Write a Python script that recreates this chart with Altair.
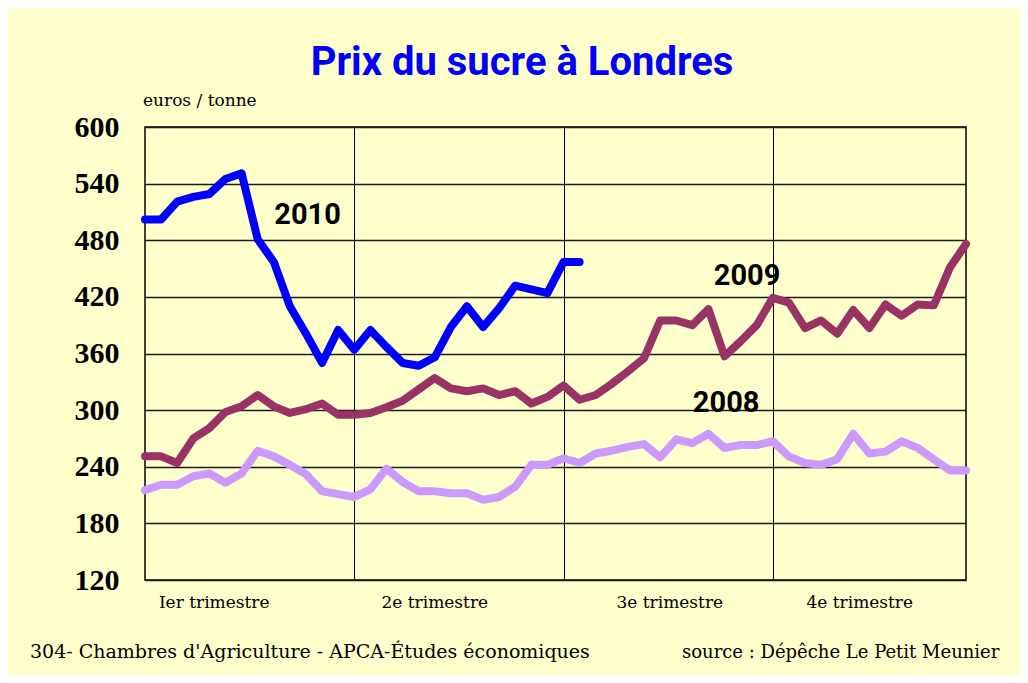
import altair as alt
import pandas as pd

weeks = list(range(52))
v2008 = [215, 221, 221, 230, 233, 223, 233, 257, 251, 242, 232, 214, 211, 208, 216, 238,
         224, 214, 214, 212, 212, 205, 208, 219, 242, 242, 249, 244, 254, 257, 261, 264,
         250, 269, 265, 275, 260, 263, 263, 267, 251, 244, 242, 248, 275, 254, 256, 267,
         260, 248, 236, 236]
v2009 = [251, 251, 244, 270, 281, 298, 304, 316, 304, 297, 301, 307, 295, 295, 297, 303,
         310, 322, 334, 323, 320, 323, 316, 320, 307, 314, 326, 311, 316, 328, 341, 355,
         395, 395, 390, 407, 357, 373, 390, 419, 414, 387, 395, 381, 406, 387, 412, 400,
         412, 411, 451, 476]
v2010 = [502, 502, 521, 526, 529, 545, 551, 481, 457, 410, 381, 350, 385, 364, 385, 367,
         350, 347, 356, 388, 410, 388, 408, 432, 428, 424, 457, 457]

years = ["2008", "2009", "2010"]
colors = ["#CC99FF", "#993366", "#0000FF"]
y_ticks = [120, 180, 240, 300, 360, 420, 480, 540, 600]
quarter_bounds = [13, 26, 39]
quarter_labels = ["Ier trimestre", "2e trimestre", "3e trimestre", "4e trimestre"]
quarter_label_pos = [4.3, 18.0, 32.6, 44.4]

label_years = ["2010", "2009", "2008"]
label_x = [10.1, 37.4, 36.1]
label_y = [507, 442, 308]

title_text = "Prix du sucre à Londres"
unit_text = "euros / tonne"
footer_left = "304- Chambres d'Agriculture - APCA-Études économiques"
footer_right = "source : Dépêche Le Petit Meunier"

rows = []
for yr, vals in zip(years, [v2008, v2009, v2010]):
    for w, v in zip(weeks, vals):
        rows.append({"year": yr, "week": w, "value": v})
df = pd.DataFrame(rows)

W, H = 821, 453
xs = alt.Scale(domain=[0, 51], nice=False, zero=False)
ys = alt.Scale(domain=[120, 600], nice=False, zero=False)

SANS = "Roboto, Liberation Sans, sans-serif"
SERIF = "DejaVu Serif, Liberation Serif, serif"

lines = alt.Chart(df).mark_line(strokeWidth=8, strokeCap="round", strokeJoin="round").encode(
    x=alt.X("week:Q", scale=xs,
            axis=alt.Axis(values=quarter_bounds, grid=True, gridColor="#000000", gridWidth=1,
                          labels=False, ticks=False, domain=False, title=None)),
    y=alt.Y("value:Q", scale=ys,
            axis=alt.Axis(values=y_ticks, grid=True, gridColor="#1a1a1a", gridWidth=1.5,
                          ticks=False, domain=False, title=None,
                          labelFont="Liberation Serif", labelFontWeight="bold",
                          labelFontSize=30, labelColor="#000000", labelPadding=26)),
    color=alt.Color("year:N", scale=alt.Scale(domain=years, range=colors), legend=None),
    order=alt.Order("week:Q"),
)

lab_df = pd.DataFrame({"t": label_years, "x": label_x, "y": label_y})
year_labels = alt.Chart(lab_df).mark_text(
    font=SANS, fontWeight="bold", fontSize=29, color="#000000",
    align="center", baseline="middle"
).encode(x=alt.X("x:Q", scale=xs), y=alt.Y("y:Q", scale=ys), text="t:N")

q_df = pd.DataFrame({"t": quarter_labels, "x": quarter_label_pos})
q_labels = alt.Chart(q_df).mark_text(
    font=SERIF, fontSize=17, color="#000000", align="center",
    baseline="alphabetic"
).encode(x=alt.X("x:Q", scale=xs), y=alt.value(H + 28), text="t:N")

def txt(s, x, y, **kw):
    return alt.Chart(pd.DataFrame({"t": [s]})).mark_text(**kw).encode(
        text="t:N", x=alt.value(x), y=alt.value(y))

title = txt(title_text, 377, -52, font=SANS, fontWeight="bold",
            fontSize=40, color="#0000FF", align="center", baseline="alphabetic")
unit = txt(unit_text, -2, -21, font=SERIF, fontSize=17, color="#000000",
           align="left", baseline="alphabetic")
foot_l = txt(footer_left, -115, 531, font=SERIF, fontSize=19, color="#000000",
             align="left", baseline="alphabetic")
foot_r = txt(footer_right, 537, 531, font=SERIF, fontSize=18, color="#000000",
             align="left", baseline="alphabetic")

chart = alt.layer(lines, year_labels, q_labels, title, unit, foot_l, foot_r).properties(
    width=W, height=H,
    autosize=alt.AutoSizeParams(type="none"),
    padding={"left": 137, "top": 119, "right": 54, "bottom": 95},
    background="#FFFFCC",
).configure_view(stroke="#000000", strokeWidth=1.5)

chart.save("out.html", embed_options={"renderer": "svg", "actions": False})
